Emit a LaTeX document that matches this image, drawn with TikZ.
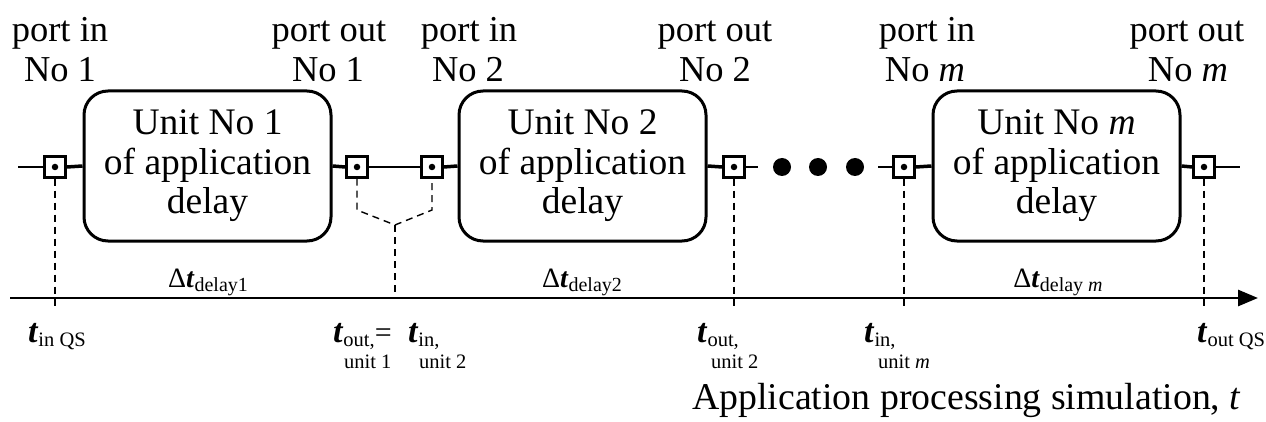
\documentclass[tikz,border=0pt]{standalone}
\usepackage{fontspec}
\setmainfont{Liberation Serif}
\usetikzlibrary{arrows.meta}
\newcommand\dlt[1]{{\fontsize{28}{28}\selectfont Δ\textbf{\textit{t}}\raisebox{-5pt}{\fontsize{20}{20}\selectfont #1}}}
\newcommand\tlb[1]{{\fontsize{34}{34}\selectfont\textbf{\textit{t}}}\raisebox{-4pt}{\fontsize{20.5}{20.5}\selectfont #1}}
\begin{document}
\begin{tikzpicture}[x=1pt,y=-1pt,
  unitbox/.style={draw, line width=3pt, rounded corners=24pt, minimum width=247pt, minimum height=150pt, align=center, font=\fontsize{37.5}{39.5}\selectfont, inner sep=0pt},
  port/.style={draw, line width=2.4pt, minimum size=21pt, inner sep=0pt, fill=white},
  pdot/.style={circle, fill=black, minimum size=6.5pt, inner sep=0pt},
  lbl/.style={anchor=base, font=\fontsize{36.5}{40}\selectfont, inner sep=0pt},
  sublbl/.style={anchor=base west, font=\fontsize{20.5}{20.5}\selectfont, inner sep=0pt},
  tlabel/.style={anchor=base west, inner sep=0pt},
  dlabel/.style={anchor=base, inner sep=0pt},
  thinl/.style={line width=1.8pt},
  stub/.style={line width=3.5pt},
  dsh/.style={dash pattern=on 7pt off 5pt, line width=1.4pt},
  bigdot/.style={circle, fill=black, minimum size=18pt, inner sep=0pt}
]
\useasboundingbox (0,0) rectangle (1266,422);

% unit boxes
\node[unitbox] (u1) at (207.5,166) {Unit No 1\\of application\\delay};
\node[unitbox] (u2) at (582.5,166) {Unit No 2\\of application\\delay};
\node[unitbox] (um) at (1056.5,166) {Unit No \textit{m}\\of application\\delay};

% coordinates
\coordinate (l0) at (18,167);
\coordinate (c1) at (758,167);
\coordinate (c2) at (878,167);
\coordinate (c3) at (1240,167);

% ports
\node[port] (pi1) at (55,167) {};
\node[port] (po1) at (357,167) {};
\node[port] (pi2) at (432,167) {};
\node[port] (po2) at (734,167) {};
\node[port] (pim) at (904,167) {};
\node[port] (pom) at (1204,167) {};
\foreach \p in {pi1,po1,pi2,po2,pim,pom}{\node[pdot] (\p d) at (\p) {};}

% main line
\draw[thinl] (l0) -- (pi1.west);
\draw[stub] (pi1.east) -- (u1.west);
\draw[stub] (u1.east) -- (po1.west);
\draw[thinl] (po1.east) -- (pi2.west);
\draw[stub] (pi2.east) -- (u2.west);
\draw[stub] (u2.east) -- (po2.west);
\draw[thinl] (po2.east) -- (c1);
\draw[thinl] (c2) -- (pim.west);
\draw[stub] (pim.east) -- (um.west);
\draw[stub] (um.east) -- (pom.west);
\draw[thinl] (pom.east) -- (c3);

% ellipsis dots
\node[bigdot] (e1) at (782,167) {};
\node[bigdot] (e2) at (818,167) {};
\node[bigdot] (e3) at (855,167) {};

% time axis
\coordinate (a0) at (10,298);
\coordinate (a1) at (1258,298);
\draw[line width=2.8pt, -{Triangle[length=20pt,width=16pt]}] (a0) -- (a1);

% dashed projections
\coordinate (b1) at (55,307);
\coordinate (b2) at (734,307);
\coordinate (b3) at (904,307);
\coordinate (b4) at (1204,307);
\coordinate (k1) at (357,210);
\coordinate (k2) at (432,210);
\coordinate (km) at (395,225);
\coordinate (kb) at (395,298);
\draw[dsh] (pi1.south) -- (b1);
\draw[dsh] (po2.south) -- (b2);
\draw[dsh] (pim.south) -- (b3);
\draw[dsh] (pom.south) -- (b4);
\draw[dsh] (po1.south) -- (k1) -- (km) -- (k2) -- (pi2.south);
\draw[dsh] (km) -- (kb);

% top labels
\node[lbl] (t1a) at (60,42) {port in};
\node[lbl] (t1b) at (60,82) {No 1};
\node[lbl] (t2a) at (329,42) {port out};
\node[lbl] (t2b) at (328,82) {No 1};
\node[lbl] (t3a) at (469,42) {port in};
\node[lbl] (t3b) at (468,82) {No 2};
\node[lbl] (t4a) at (715,42) {port out};
\node[lbl] (t4b) at (715,82) {No 2};
\node[lbl] (t5a) at (927,42) {port in};
\node[lbl] (t5b) at (925,82) {No \textit{m}};
\node[lbl] (t6a) at (1187,42) {port out};
\node[lbl] (t6b) at (1188,82) {No \textit{m}};

% delay labels
\node[dlabel] (dl1) at (208,287) {\dlt{delay1}};
\node[dlabel] (dl2) at (582,287) {\dlt{delay2}};
\node[dlabel] (dlm) at (1058,287) {\dlt{delay \textit{m}}};

% time labels
\node[tlabel] (tq1) at (28,342) {\tlb{in QS}};
\node[tlabel] (to1) at (333,342) {\tlb{out,}{\fontsize{30}{30}\selectfont=}};
\node[sublbl] (to1u) at (344,368) {unit 1};
\node[tlabel] (ti2) at (408,342) {\tlb{in,}};
\node[sublbl] (ti2u) at (419,368) {unit 2};
\node[tlabel] (to2) at (697,342) {\tlb{out,}};
\node[sublbl] (to2u) at (711,368) {unit 2};
\node[tlabel] (tim) at (864,342) {\tlb{in,}};
\node[sublbl] (timu) at (878,368) {unit \textit{m}};
\node[tlabel] (tq2) at (1197,342) {\tlb{out QS}};

\node[anchor=base west, inner sep=0pt, font=\fontsize{37.8}{40}\selectfont] (ax) at (692,409) {Application processing simulation, \textit{t}};
\end{tikzpicture}
\end{document}
